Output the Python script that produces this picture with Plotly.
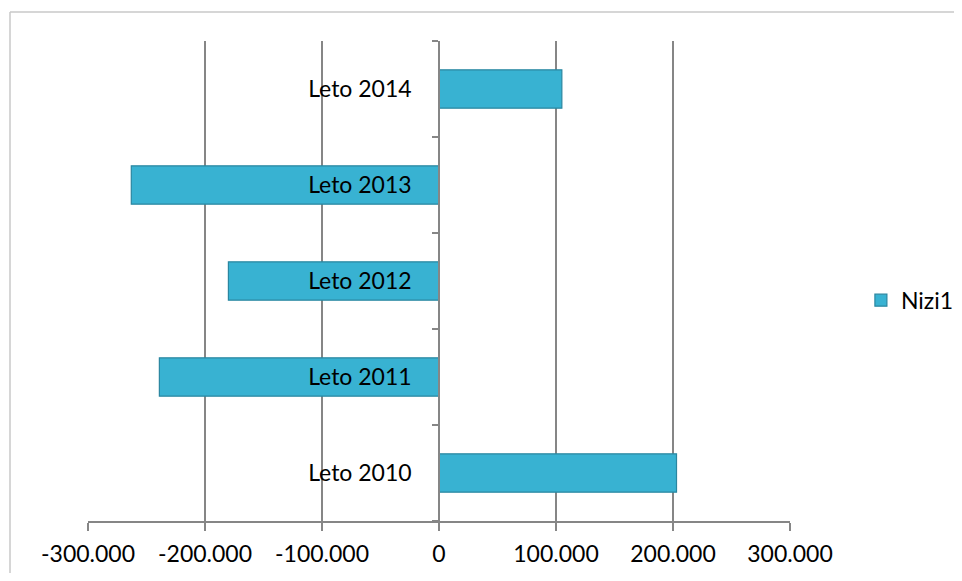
import plotly.graph_objects as go

categories = ["Leto 2010", "Leto 2011", "Leto 2012", "Leto 2013", "Leto 2014"]
values = [203000, -239000, -180000, -263000, 105000]
series_name = "Nizi1"
x_tickvals = [-300000, -200000, -100000, 0, 100000, 200000, 300000]
x_ticktext = ["-300.000", "-200.000", "-100.000", "0", "100.000", "200.000", "300.000"]

GRID = "#868686"
FONT = "Lato"
FS = 23

fig = go.Figure()
fig.add_trace(go.Bar(
    y=categories, x=values, orientation="h", name=series_name,
    marker=dict(color="#38B2D2", line=dict(color="#2A86A0", width=1.2)),
    showlegend=True,
))

top_y = (521 - 12) / 480
left_x = -78 / 702

fig.update_layout(
    width=946, height=565,
    margin=dict(l=80, r=164, t=33, b=52, autoexpand=False),
    paper_bgcolor="white", plot_bgcolor="white",
    bargap=0.6,
    font=dict(family=FONT, size=FS, color="black"),
    xaxis=dict(
        range=[-300000, 300000],
        tickvals=x_tickvals, ticktext=x_ticktext,
        showgrid=True, gridcolor=GRID, gridwidth=1.5,
        zeroline=False,
        showline=True, linecolor=GRID, linewidth=1.5,
        ticks="outside", ticklen=8, tickcolor=GRID, tickwidth=1.5,
        ticklabelstandoff=4,
        tickfont=dict(family=FONT, size=FS, color="black"),
    ),
    yaxis=dict(
        type="category",
        anchor="free", position=0.5,
        showgrid=False, zeroline=False,
        showline=True, linecolor=GRID, linewidth=1.5,
        ticks="outside", ticklen=6, tickcolor=GRID, tickwidth=1.5,
        tickson="boundaries",
        ticklabelstandoff=22,
        tickfont=dict(family=FONT, size=FS, color="black"),
    ),
    legend=dict(
        x=1.101, y=0.46, xanchor="left", yanchor="middle",
        font=dict(family=FONT, size=FS, color="black"),
        bgcolor="rgba(0,0,0,0)",
    ),
    shapes=[
        dict(type="line", xref="paper", yref="paper",
             x0=left_x, x1=1.5, y0=top_y, y1=top_y,
             line=dict(color="#C8C8C8", width=1.5), layer="below"),
        dict(type="line", xref="paper", yref="paper",
             x0=left_x, x1=left_x, y0=-0.5, y1=top_y,
             line=dict(color="#C8C8C8", width=1.5), layer="below"),
    ],
)

fig.write_html("out.html")
